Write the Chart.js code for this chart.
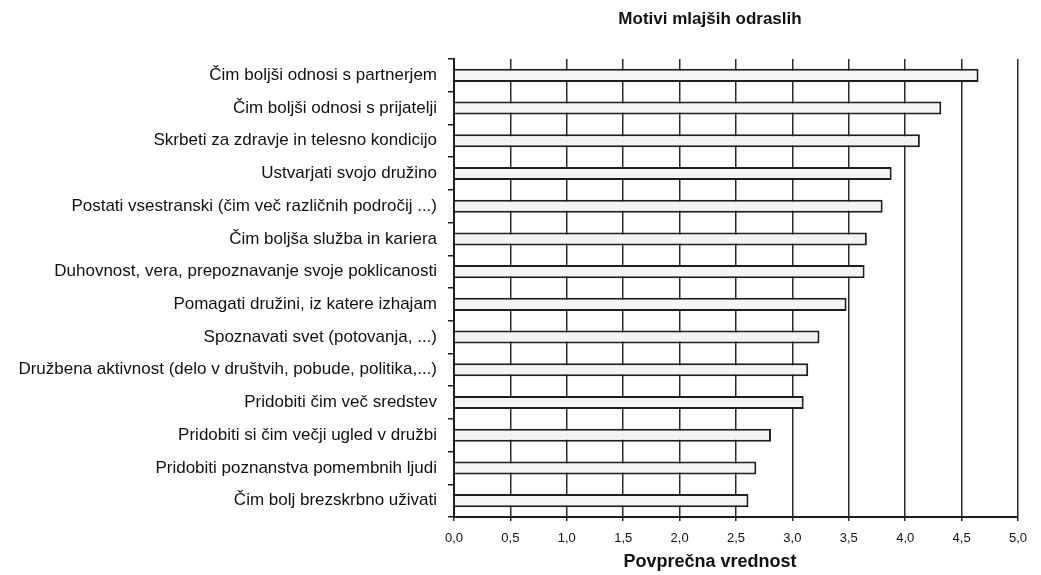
<!DOCTYPE html>
<html>
<head>
<meta charset="utf-8">
<script src="https://cdn.jsdelivr.net/npm/chart.js@4/dist/chart.umd.min.js"></script>
<style>
  html, body { margin: 0; background: #fff; }
  #wrap { width: 1041px; height: 575px; }
</style>
</head>
<body>
<div id="wrap"><canvas id="chart"></canvas></div>
<script>
const chartTitle = 'Motivi mlajših odraslih';
const axisTitle = 'Povprečna vrednost';

const categories = [
    'Čim boljši odnosi s partnerjem',
    'Čim boljši odnosi s prijatelji',
    'Skrbeti za zdravje in telesno kondicijo',
    'Ustvarjati svojo družino',
    'Postati vsestranski (čim več različnih področij ...)',
    'Čim boljša služba in kariera',
    'Duhovnost, vera, prepoznavanje svoje poklicanosti',
    'Pomagati družini, iz katere izhajam',
    'Spoznavati svet (potovanja, ...)',
    'Družbena aktivnost (delo v društvih, pobude, politika,...)',
    'Pridobiti čim več sredstev',
    'Pridobiti si čim večji ugled v družbi',
    'Pridobiti poznanstva pomembnih ljudi',
    'Čim bolj brezskrbno uživati'
];

const values = [4.65, 4.32, 4.13, 3.88, 3.80, 3.66, 3.64, 3.48, 3.24, 3.14, 3.10, 2.81, 2.68, 2.61];

const xTicks = ['0,0', '0,5', '1,0', '1,5', '2,0', '2,5', '3,0', '3,5', '4,0', '4,5', '5,0'];

const fontFamily = '"Liberation Sans", Arial, Helvetica, sans-serif';
const ink = '#111';

// titles sit left of the plot centre in the original, so draw them by hand
const titlesPlugin = {
    id: 'titles',
    afterDraw(chart) {
        const c = chart.ctx;
        const cx = chart.chartArea.left + 256;
        c.save();
        c.fillStyle = ink;
        c.textAlign = 'center';
        c.textBaseline = 'middle';
        c.font = 'bold 17px ' + fontFamily;
        c.fillText(chartTitle, cx, 19);
        c.font = 'bold 18px ' + fontFamily;
        c.fillText(axisTitle, cx, 562);
        c.restore();
    }
};

new Chart(document.getElementById('chart'), {
    type: 'bar',
    data: {
        labels: categories,
        datasets: [{
            data: values,
            backgroundColor: '#f4f4f4',
            borderColor: '#1e1e1e',
            borderWidth: 2,
            barPercentage: 0.4,
            categoryPercentage: 1
        }]
    },
    options: {
        indexAxis: 'y',
        responsive: true,
        maintainAspectRatio: false,
        animation: false,
        layout: { padding: { top: 59, right: 23, bottom: 0, left: 0 } },
        plugins: {
            legend: { display: false },
            tooltip: { enabled: false }
        },
        scales: {
            x: {
                min: 0,
                max: 5,
                afterFit: (scale) => { scale.height = 58; },
                ticks: {
                    stepSize: 0.5,
                    padding: 10,
                    color: ink,
                    font: { family: fontFamily, size: 13 },
                    callback: (v, i) => xTicks[i]
                },
                grid: { color: '#2a2a2a', lineWidth: 1.5, tickLength: 4 },
                border: { color: '#1e1e1e', width: 2 }
            },
            y: {
                afterFit: (scale) => { scale.width = 454; },
                ticks: {
                    padding: 11,
                    color: ink,
                    font: { family: fontFamily, size: 17 }
                },
                grid: { offset: true, drawOnChartArea: false, color: '#1e1e1e', lineWidth: 1.5, tickLength: 6 },
                border: { color: '#1e1e1e', width: 2 }
            }
        }
    },
    plugins: [titlesPlugin]
});
</script>
</body>
</html>
